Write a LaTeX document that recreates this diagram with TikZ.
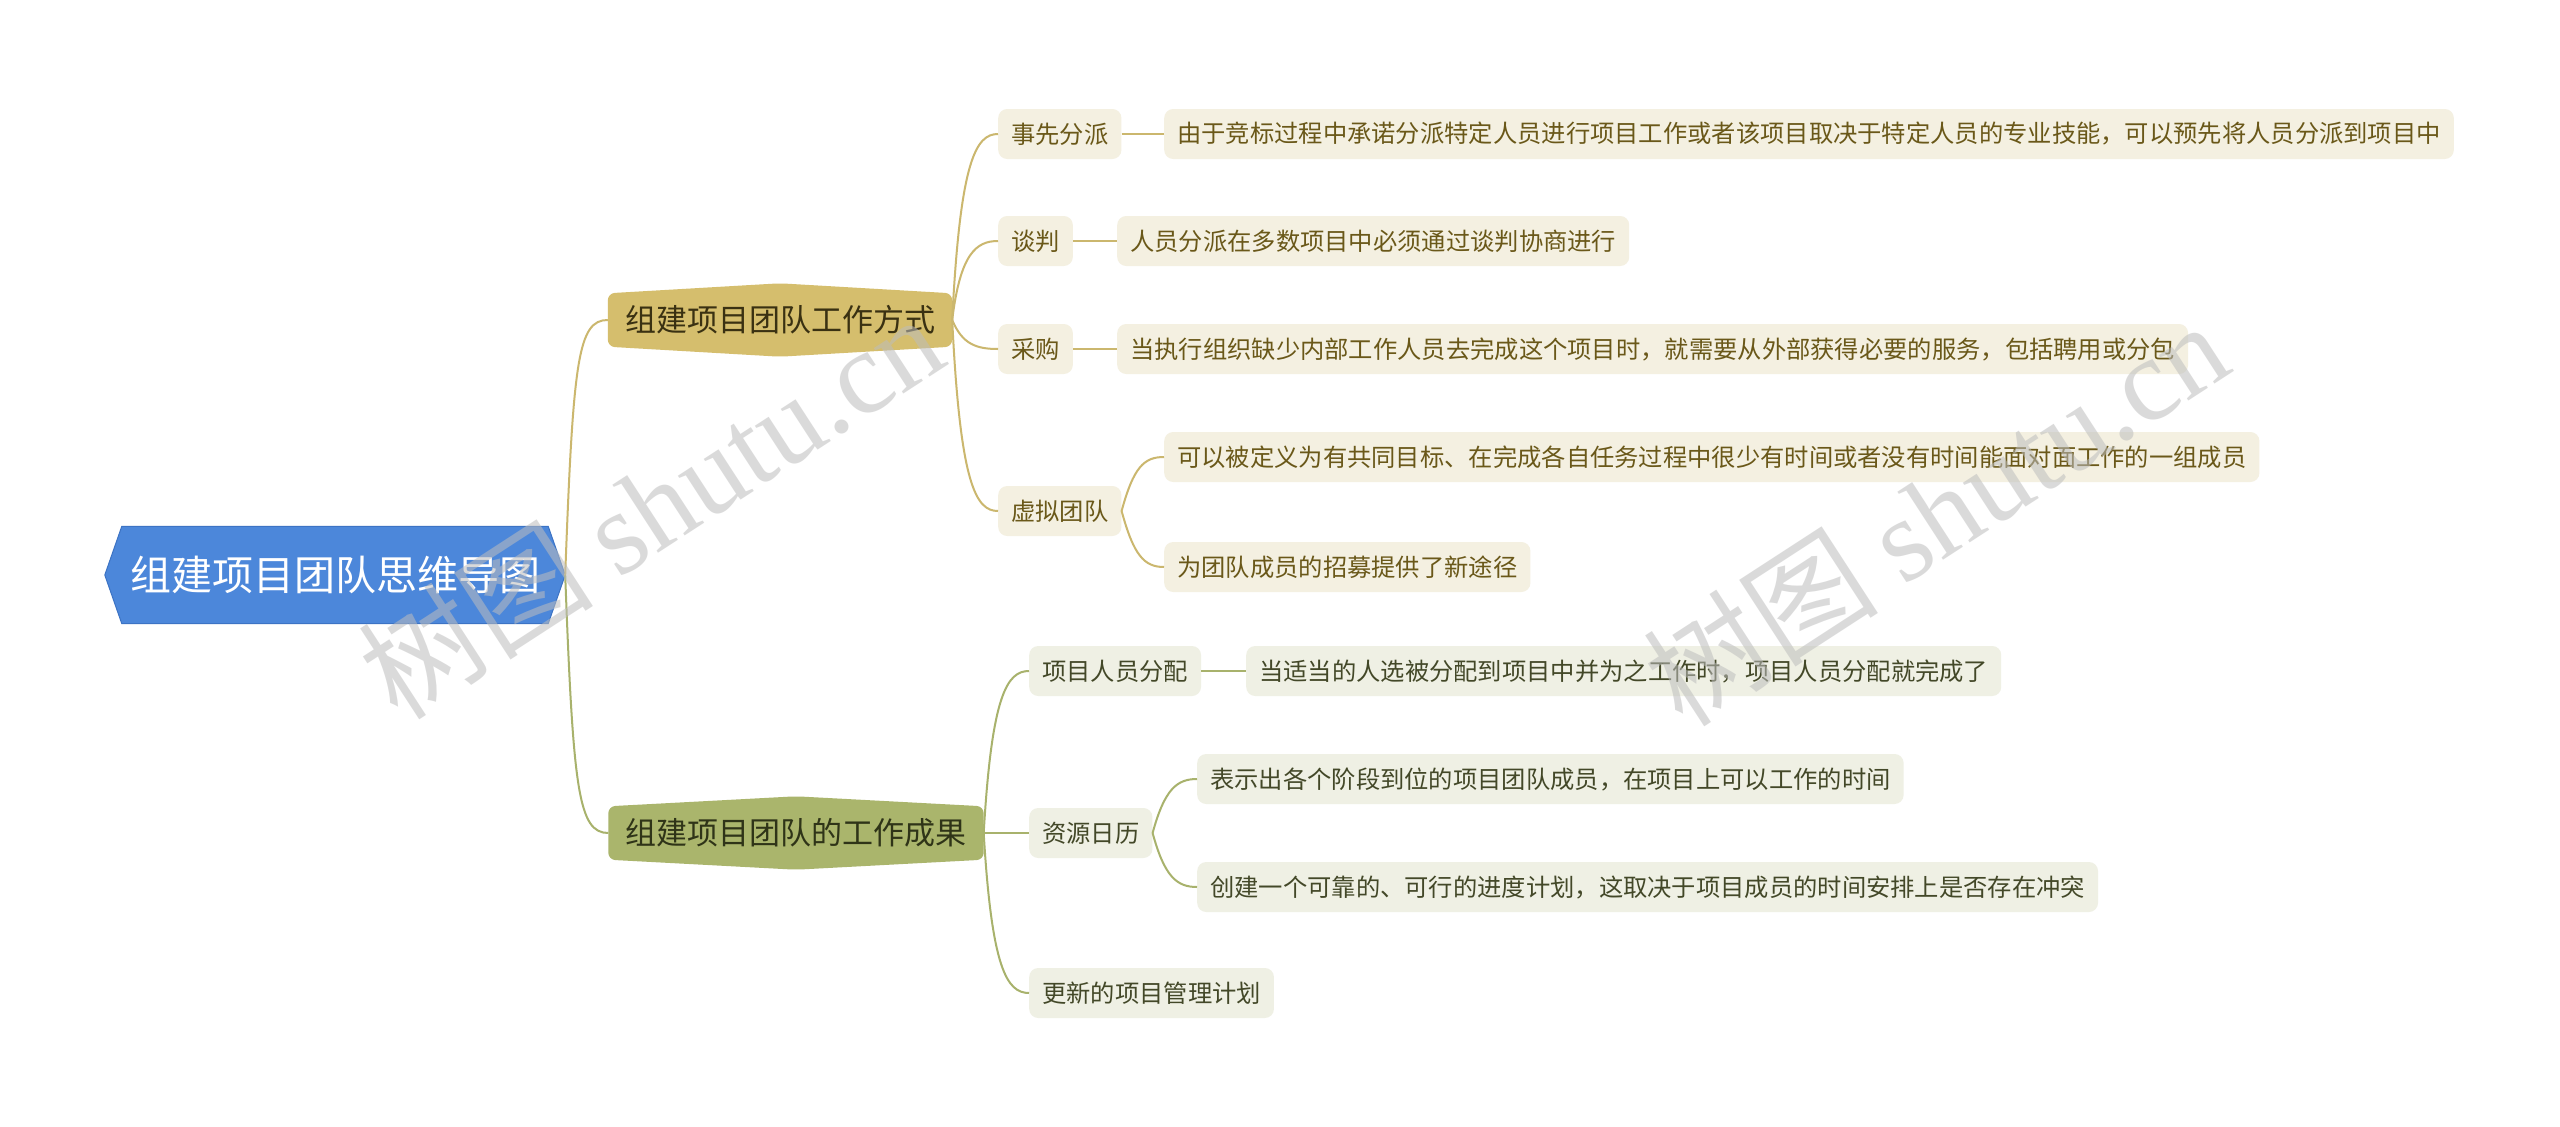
\documentclass[tikz,border=0pt]{standalone}
\usepackage{fontspec}
\setmainfont{Noto Sans CJK SC}
\newfontfamily\wmlatin{Liberation Serif}
\usetikzlibrary{calc}
\pgfdeclarelayer{background}
\pgfdeclarelayer{canvas}
\pgfsetlayers{canvas,background,main}
\definecolor{rootfill}{HTML}{4C87DA}
\definecolor{rootdraw}{HTML}{3C73C4}
\definecolor{bafill}{HTML}{D5BE6D}
\definecolor{baline}{HTML}{CBB76E}
\definecolor{batext}{HTML}{3A3112}
\definecolor{lafill}{HTML}{F4F0E1}
\definecolor{latext}{HTML}{6A5819}
\definecolor{bbfill}{HTML}{AAB56C}
\definecolor{bbline}{HTML}{A8B26C}
\definecolor{bbtext}{HTML}{2F3418}
\definecolor{lbfill}{HTML}{EFF0E4}
\definecolor{lbtext}{HTML}{434828}
\definecolor{wmgray}{HTML}{BDBDBD}
\tikzset{
  rootnode/.style={text=white, font=\fontsize{41}{41}\selectfont, minimum height=97pt, inner xsep=8pt, inner ysep=0pt},
  branchnode/.style={font=\fontsize{31}{31}\selectfont, minimum height=53pt, inner xsep=17pt, inner ysep=0pt},
  leafa/.style={fill=lafill, text=latext, rounded corners=9pt, font=\fontsize{24.3}{24.3}\selectfont, minimum height=50pt, inner xsep=13pt, inner ysep=0pt, anchor=west},
  leafb/.style={fill=lbfill, text=lbtext, rounded corners=9pt, font=\fontsize{24.3}{24.3}\selectfont, minimum height=50pt, inner xsep=13pt, inner ysep=0pt, anchor=west},
  linea/.style={draw=baline, line width=2pt},
  lineb/.style={draw=bbline, line width=2pt},
  watermark/.style={text=wmgray, opacity=0.55, rotate=33, font=\fontsize{118}{118}\selectfont}
}
\begin{document}
\begin{tikzpicture}[x=1pt, y=-1pt]
\useasboundingbox (0,0) rectangle (2560,1127);
\begin{pgfonlayer}{canvas}
\fill[white] (0,0) rectangle (2560,1127);
\end{pgfonlayer}

% root
\node[rootnode] (root) at (335,575) {组建项目团队思维导图};
\begin{pgfonlayer}{background}
\filldraw[fill=rootfill, draw=rootdraw, line width=1pt]
  ([xshift=-17pt]root.west) -- (root.north west) -- (root.north east)
  -- ([xshift=17pt]root.east) -- (root.south east) -- (root.south west) -- cycle;
\end{pgfonlayer}
\coordinate (rootR) at ([xshift=17pt]root.east);

% branches
\node[branchnode, text=batext] (ba) at (780,320) {组建项目团队工作方式};
\node[branchnode, text=bbtext] (bb) at (796,833) {组建项目团队的工作成果};
\begin{pgfonlayer}{background}
\fill[bafill, rounded corners=7pt]
  (ba.north west) -- ([yshift=10pt]ba.north) -- (ba.north east)
  -- (ba.south east) -- ([yshift=-10pt]ba.south) -- (ba.south west) -- cycle;
\fill[bbfill, rounded corners=7pt]
  (bb.north west) -- ([yshift=10pt]bb.north) -- (bb.north east)
  -- (bb.south east) -- ([yshift=-10pt]bb.south) -- (bb.south west) -- cycle;
\end{pgfonlayer}

% level 2, branch a
\node[leafa] (a1) at (998,134) {事先分派};
\node[leafa] (a1d) at (1164,134) {由于竞标过程中承诺分派特定人员进行项目工作或者该项目取决于特定人员的专业技能，可以预先将人员分派到项目中};
\node[leafa] (a2) at (998,241) {谈判};
\node[leafa] (a2d) at (1117,241) {人员分派在多数项目中必须通过谈判协商进行};
\node[leafa] (a3) at (998,349) {采购};
\node[leafa] (a3d) at (1117,349) {当执行组织缺少内部工作人员去完成这个项目时，就需要从外部获得必要的服务，包括聘用或分包};
\node[leafa] (a4) at (998,511) {虚拟团队};
\node[leafa] (a4a) at (1164,457) {可以被定义为有共同目标、在完成各自任务过程中很少有时间或者没有时间能面对面工作的一组成员};
\node[leafa] (a4b) at (1164,567) {为团队成员的招募提供了新途径};

% level 2, branch b
\node[leafb] (b1) at (1029,671) {项目人员分配};
\node[leafb] (b1d) at (1246,671) {当适当的人选被分配到项目中并为之工作时，项目人员分配就完成了};
\node[leafb] (b2) at (1029,833) {资源日历};
\node[leafb] (b2a) at (1197,779) {表示出各个阶段到位的项目团队成员，在项目上可以工作的时间};
\node[leafb] (b2b) at (1197,887) {创建一个可靠的、可行的进度计划，这取决于项目成员的时间安排上是否存在冲突};
\node[leafb] (b3) at (1029,993) {更新的项目管理计划};

% connectors root
\draw[linea] (rootR) .. controls +(8,-215) and +(-30,0) .. (ba.west);
\draw[lineb] (rootR) .. controls +(8,215) and +(-30,0) .. (bb.west);

% connectors branch a
\draw[linea] (ba.east) .. controls +(8,-160) and +(-22,0) .. (a1.west);
\draw[linea] (ba.east) .. controls +(8,-66) and +(-22,0) .. (a2.west);
\draw[linea] (ba.east) .. controls +(10,24) and +(-22,0) .. (a3.west);
\draw[linea] (ba.east) .. controls +(8,165) and +(-22,0) .. (a4.west);
\draw[linea] (a1.east) -- (a1d.west);
\draw[linea] (a2.east) -- (a2d.west);
\draw[linea] (a3.east) -- (a3d.west);
\draw[linea] (a4.east) .. controls +(12,-44) and +(-20,0) .. (a4a.west);
\draw[linea] (a4.east) .. controls +(12,44) and +(-20,0) .. (a4b.west);

% connectors branch b
\draw[lineb] (bb.east) .. controls +(8,-138) and +(-22,0) .. (b1.west);
\draw[lineb] (bb.east) -- (b2.west);
\draw[lineb] (bb.east) .. controls +(8,136) and +(-22,0) .. (b3.west);
\draw[lineb] (b1.east) -- (b1d.west);
\draw[lineb] (b2.east) .. controls +(12,-44) and +(-20,0) .. (b2a.west);
\draw[lineb] (b2.east) .. controls +(12,44) and +(-20,0) .. (b2b.west);

% watermarks
\node[watermark] (wm1) at (650,505) {树图 {\wmlatin shutu.cn}};
\node[watermark] (wm2) at (1935,512) {树图 {\wmlatin shutu.cn}};
\end{tikzpicture}
\end{document}
